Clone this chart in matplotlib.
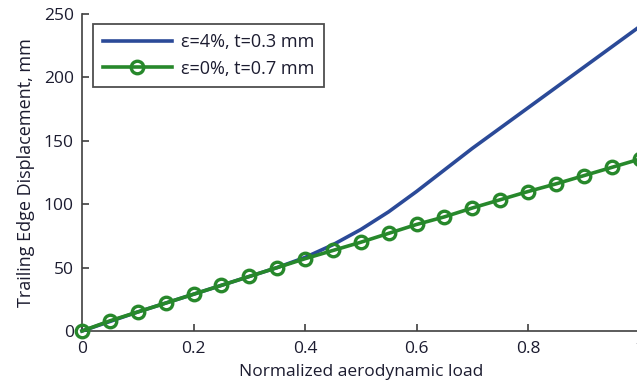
import matplotlib
matplotlib.use("Agg")
import matplotlib.pyplot as plt

load = [0.0, 0.05, 0.1, 0.15, 0.2, 0.25, 0.3, 0.35, 0.4, 0.45, 0.5,
        0.55, 0.6, 0.65, 0.7, 0.75, 0.8, 0.85, 0.9, 0.95, 1.0]
disp_e4 = [0, 7.5, 15, 22, 29, 36, 43, 50, 58, 68, 80,
           94, 110, 127, 144, 160, 176, 192, 208, 224, 240]
disp_e0 = [0, 8, 15, 22, 29, 36, 43, 50, 57, 63.5, 70,
           77, 84, 90, 97, 103.5, 110, 116, 122.5, 129, 135.5]

label_e4 = "ε=4%, t=0.3 mm"
label_e0 = "ε=0%, t=0.7 mm"
xticks = [0, 0.2, 0.4, 0.6, 0.8, 1]
xticklabels = ["0", "0.2", "0.4", "0.6", "0.8", "1"]
yticks = [0, 50, 100, 150, 200, 250]

plt.rcParams['font.family'] = ['Open Sans', 'DejaVu Sans']
txt = '#1c1c30'

fig = plt.figure(figsize=(6.37, 3.87), dpi=100)
ax = fig.add_axes([82/637, (387-331)/387, (639.5-82)/637, (331-14)/387])

ax.plot(load, disp_e4, color='#2b4a98', lw=2.6, label=label_e4, clip_on=False, zorder=3)
ax.plot(load, disp_e0, color='#27882b', lw=2.6, marker='o', ms=9, mfc='none',
        mew=2.4, label=label_e0, clip_on=False, zorder=4)

ax.set_xlim(0, 1)
ax.set_ylim(0, 250)
ax.set_xticks(xticks)
ax.set_xticklabels(xticklabels)
ax.set_yticks(yticks)
for s in ['top', 'right']:
    ax.spines[s].set_visible(False)
for s in ['left', 'bottom']:
    ax.spines[s].set_color('#404040')
    ax.spines[s].set_linewidth(1.2)
ax.tick_params(direction='in', length=5, width=1.2, color='#404040',
               labelsize=12.5, labelcolor=txt)
ax.tick_params(axis='x', pad=7)
ax.tick_params(axis='y', pad=6)
ax.set_xlabel("Normalized aerodynamic load", fontsize=12.5, color=txt, labelpad=5)
ax.set_ylabel("Trailing Edge Displacement, mm", fontsize=13, color=txt, labelpad=6)

leg = ax.legend(loc='upper left', bbox_to_anchor=(0.02, 0.97), fontsize=13,
                handlelength=3.8, frameon=True, fancybox=False, borderpad=0.55,
                labelspacing=0.45, handletextpad=0.5, borderaxespad=0)
leg.get_frame().set_edgecolor('#222222')
leg.get_frame().set_linewidth(1.3)
for t in leg.get_texts():
    t.set_color(txt)

fig.savefig("out.png", dpi=100)
